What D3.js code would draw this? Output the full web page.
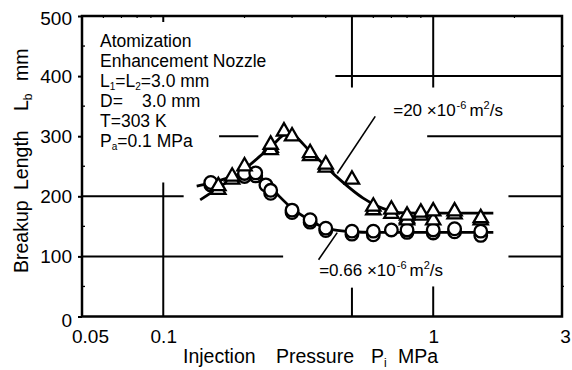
<!DOCTYPE html>
<html>
<head>
<meta charset="utf-8">
<script src="https://cdn.jsdelivr.net/npm/d3@7"></script>
<style>
  body { margin: 0; background: #fff; }
  svg { display: block; font-family: Arial, "Liberation Sans", sans-serif; }
</style>
</head>
<body>
<svg id="chart" width="572" height="370"></svg>
<script>
// kinematic viscosity 20e-6 m2/s (triangles)
const triP = [0.16, 0.18, 0.2, 0.25, 0.28, 0.3, 0.35, 0.4, 0.5, 0.6, 0.7, 0.8, 0.9, 1.0, 1.2, 1.5];
const triL = [217, 233, 250, 286, 308, 300, 272, 253, 228, 183, 178, 168, 173, 175, 175, 164];
// repeated runs, drawn underneath
const triRepP = [0.16, 0.18, 0.25, 0.25, 0.35, 0.4, 0.6, 0.7, 0.8, 0.8, 0.9, 1.0, 1.2, 1.5];
const triRepL = [211, 228, 281, 277, 267, 248, 177, 171, 163, 160, 168, 160, 170, 160];

// kinematic viscosity 0.66e-6 m2/s (circles)
const circP = [0.15, 0.2, 0.22, 0.24, 0.25, 0.3, 0.35, 0.4, 0.5, 0.6, 0.7, 0.8, 1.0, 1.2, 1.5];
const circL = [223, 238, 239, 219, 210, 177, 161, 147, 142, 142, 144, 144, 144, 146, 142];
const circRepP = [0.15, 0.2, 0.22, 0.25, 0.3, 0.35, 0.4, 0.5, 0.6, 0.8, 1.0, 1.2, 1.5];
const circRepL = [219, 233, 234, 205, 173, 157, 143, 137, 136, 140, 139, 141, 135];

// hand drawn trend curves
const fitHiP = [0.137, 0.16, 0.2, 0.25, 0.29, 0.35, 0.43, 0.55, 0.65, 0.75, 1.0, 1.67];
const fitHiL = [194, 214, 245, 282, 305, 275, 236, 197, 180, 173, 172, 172];
const fitLoP = [0.133, 0.15, 0.2, 0.22, 0.25, 0.3, 0.35, 0.4, 0.5, 0.6, 1.0, 1.67];
const fitLoL = [217, 222, 236, 236, 214, 180, 160, 147, 141, 140, 140, 140];

const xTicks = [0.05, 0.1, 1, 3];
const yTicks = [0, 100, 200, 300, 400, 500];
const yMinor = [50, 150, 250, 350, 450];
const xMinor = [0.06, 0.07, 0.08, 0.09, 0.2, 0.3, 0.4, 0.6, 0.7, 0.8, 0.9, 2];

// broken grid lines (gaps left around text and data)
const hGridL = [100, 100, 200, 200, 300, 300, 400];
const hGridFrom = [0.05, 1.9, 0.05, 1.9, 0.161, 0.95, 0.434];
const hGridTo = [0.278, 3, 0.119, 3, 0.225, 3, 3];
const vGridP = [0.1, 0.5, 0.5, 1, 1];
const vGridFrom = [0, 0, 381, 0, 381];
const vGridTo = [223, 48, 500, 50, 500];

const infoLines = ["Atomization", "Enhancement Nozzle", "L1=L2=3.0 mm", "D=", "T=303 K", "Pa=0.1 MPa"];

const svg = d3.select("#chart");
const x = d3.scaleLog().domain([0.05, 3]).range([82, 562]);
const y = d3.scaleLinear().domain([0, 500]).range([316.5, 16]);

const g = svg.append("g");

// grid
g.selectAll(".hgrid")
  .data(hGridL)
  .enter()
  .append("line")
  .attr("x1", (d, i) => x(hGridFrom[i]))
  .attr("x2", (d, i) => x(hGridTo[i]))
  .attr("y1", (d) => y(d))
  .attr("y2", (d) => y(d))
  .attr("stroke", "#000")
  .attr("stroke-width", 2);

g.selectAll(".vgrid")
  .data(vGridP)
  .enter()
  .append("line")
  .attr("x1", (d) => x(d))
  .attr("x2", (d) => x(d))
  .attr("y1", (d, i) => y(vGridFrom[i]))
  .attr("y2", (d, i) => y(vGridTo[i]))
  .attr("stroke", "#000")
  .attr("stroke-width", 2);

// minor ticks
g.selectAll(".ly")
  .data(yMinor)
  .enter()
  .append("line")
  .attr("x1", x(0.05))
  .attr("x2", x(0.05) + 3)
  .attr("y1", (d) => y(d))
  .attr("y2", (d) => y(d))
  .attr("stroke", "#000")
  .attr("stroke-width", 1.3);

g.selectAll(".ry")
  .data(yMinor)
  .enter()
  .append("line")
  .attr("x1", x(3))
  .attr("x2", x(3) + 2)
  .attr("y1", (d) => y(d))
  .attr("y2", (d) => y(d))
  .attr("stroke", "#000")
  .attr("stroke-width", 1.3);

g.selectAll(".tx")
  .data(xMinor)
  .enter()
  .append("line")
  .attr("x1", (d) => x(d))
  .attr("x2", (d) => x(d))
  .attr("y1", y(500))
  .attr("y2", y(500) + 2)
  .attr("stroke", "#000")
  .attr("stroke-width", 1.2);

g.append("line")
  .attr("x1", x(0.1)).attr("x2", x(0.1))
  .attr("y1", y(500)).attr("y2", y(500) + 6)
  .attr("stroke", "#000").attr("stroke-width", 2);

// axes
const yAxis = d3.axisLeft(y).tickValues(yTicks).tickSize(4).tickSizeOuter(0).tickPadding(6);
const yAxisG = g.append("g").attr("transform", `translate(${x(0.05)},0)`).call(yAxis);
yAxisG.selectAll("text")
  .attr("font-size", 19)
  .attr("fill", "#000")
  .attr("font-family", null)
  .attr("dy", (d) => (d === 0 ? "0.55em" : d === 500 ? "0.45em" : "0.32em"));
yAxisG.selectAll("line").attr("stroke-width", 2);
yAxisG.select(".domain").remove();

const xAxis = d3.axisBottom(x).tickValues(xTicks).tickSize(0).tickSizeOuter(0).tickPadding(13)
  .tickFormat((d) => String(d));
const xAxisG = g.append("g").attr("transform", `translate(0,${y(0)})`).call(xAxis);
xAxisG.selectAll("text")
  .attr("font-size", 19)
  .attr("fill", "#000")
  .attr("font-family", null)
  .attr("dx", (d) => (d === 0.05 ? 8 : d === 3 ? 3 : 0));
xAxisG.select(".domain").remove();

// frame
g.append("rect")
  .attr("x", x(0.05))
  .attr("y", y(500))
  .attr("width", x(3) - x(0.05))
  .attr("height", y(0) - y(500))
  .attr("fill", "none")
  .attr("stroke", "#000")
  .attr("stroke-width", 2.5);

// trend curves
const line = d3.line()
  .x((d) => x(d[0]))
  .y((d) => y(d[1]))
  .curve(d3.curveMonotoneX);

g.append("path")
  .attr("d", line(fitHiP.map((p, i) => [p, fitHiL[i]])))
  .attr("fill", "none")
  .attr("stroke", "#000")
  .attr("stroke-width", 2.8);

g.append("path")
  .attr("d", line(fitLoP.map((p, i) => [p, fitLoL[i]])))
  .attr("fill", "none")
  .attr("stroke", "#000")
  .attr("stroke-width", 2.8);

// markers
const tri = d3.symbol(d3.symbolTriangle, 88);

function drawTriangles(ps, ls) {
  g.append("g")
    .selectAll("path")
    .data(ps)
    .enter()
    .append("path")
    .attr("d", tri)
    .attr("transform", (d, i) => `translate(${x(d)},${y(ls[i])})`)
    .attr("fill", "#fff")
    .attr("stroke", "#000")
    .attr("stroke-width", 2.3);
}

function drawCircles(ps, ls) {
  g.append("g")
    .selectAll("circle")
    .data(ps)
    .enter()
    .append("circle")
    .attr("cx", (d) => x(d))
    .attr("cy", (d, i) => y(ls[i]))
    .attr("r", 6.3)
    .attr("fill", "#fff")
    .attr("stroke", "#000")
    .attr("stroke-width", 2.3);
}

drawCircles(circRepP, circRepL);
drawCircles(circP, circL);
drawTriangles(triRepP, triRepL);
drawTriangles(triP, triL);

// annotation leader lines
const leadHi = [[0.61, 333], [0.441, 238]];
const leadLo = [[0.376, 94.5], [0.441, 139.5]];
[leadHi, leadLo].forEach((seg) => {
  g.append("line")
    .attr("x1", x(seg[0][0])).attr("y1", y(seg[0][1]))
    .attr("x2", x(seg[1][0])).attr("y2", y(seg[1][1]))
    .attr("stroke", "#000")
    .attr("stroke-width", 1.6);
});

function viscLabel(px, pl, value) {
  const t = g.append("text")
    .attr("x", x(px))
    .attr("y", y(pl))
    .attr("font-size", 17)
    .attr("fill", "#000");
  t.append("tspan").text(`=${value} \u00d710`);
  t.append("tspan").attr("font-size", 11).attr("dy", -7).attr("dx", 1).text("-6");
  t.append("tspan").attr("dy", 7).attr("dx", 3).text("m");
  t.append("tspan").attr("font-size", 11).attr("dy", -7).text("2");
  t.append("tspan").attr("dy", 7).text("/s");
}
viscLabel(0.711, 333, "20");
viscLabel(0.378, 66.7, "0.66");

// condition text, one text element per line
infoLines.forEach((s, i) => {
  const yy = 46.5 + i * 20;
  const t = g.append("text")
    .attr("x", 100)
    .attr("y", yy)
    .attr("font-size", 17.5)
    .attr("fill", "#000");
  if (s === "L1=L2=3.0 mm") {
    t.append("tspan").text("L");
    t.append("tspan").attr("font-size", 10).attr("dy", 3).text("1");
    t.append("tspan").attr("dy", -3).text("=L");
    t.append("tspan").attr("font-size", 10).attr("dy", 3).text("2");
    t.append("tspan").attr("dy", -3).text("=3.0 mm");
  } else if (s === "D=") {
    t.append("tspan").text("D=");
    t.append("tspan").attr("x", 142).text("3.0 mm");
  } else if (s === "Pa=0.1 MPa") {
    t.append("tspan").text("P");
    t.append("tspan").attr("font-size", 10).attr("dy", 3).text("a");
    t.append("tspan").attr("dy", -3).text("=0.1 MPa");
  } else {
    t.text(s);
  }
});

// axis titles
const xt = g.append("text").attr("y", 363).attr("font-size", 19.5).attr("fill", "#000");
xt.append("tspan").attr("x", 183).text("Injection");
xt.append("tspan").attr("x", 276).text("Pressure");
xt.append("tspan").attr("x", 371).text("P");
xt.append("tspan").attr("font-size", 12).attr("dy", 4).text("i");
xt.append("tspan").attr("x", 398).attr("dy", -4).text("MPa");

const yt = g.append("text")
  .attr("transform", "translate(28,0) rotate(-90)")
  .attr("font-size", 19.5)
  .attr("fill", "#000");
yt.append("tspan").attr("x", -273).text("Breakup");
yt.append("tspan").attr("x", -190).text("Length");
yt.append("tspan").attr("x", -111).text("L");
yt.append("tspan").attr("font-size", 12).attr("dy", 4).text("b");
yt.append("tspan").attr("x", -81).attr("dy", -4).text("mm");
</script>
</body>
</html>
